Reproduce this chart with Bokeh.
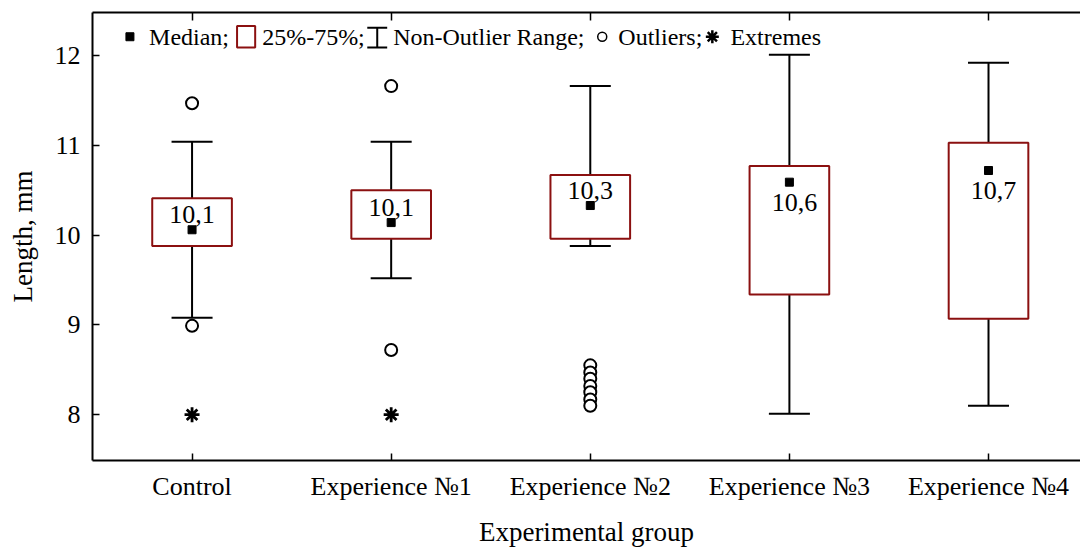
from bokeh.plotting import figure
from bokeh.models import Range1d, FixedTicker, LinearAxis, ColumnDataSource, CustomJSTickFormatter
from bokeh.core.properties import value
from bokeh.embed import file_html
from bokeh.resources import INLINE

# ---- data ----
groups = ["Control", "Experience №1", "Experience №2", "Experience №3", "Experience №4"]
medians = [10.06, 10.14, 10.33, 10.59, 10.72]
q1 = [9.88, 9.96, 9.96, 9.34, 9.07]
q3 = [10.41, 10.50, 10.67, 10.77, 11.03]
whisk_lo = [9.08, 9.52, 9.88, 8.01, 8.10]
whisk_hi = [11.04, 11.04, 11.66, 12.01, 11.92]
median_labels = ["10,1", "10,1", "10,3", "10,6", "10,7"]
label_below = [False, False, False, True, True]
outliers = [
    [11.47, 8.99],
    [11.66, 8.72],
    [8.55, 8.47, 8.40, 8.32, 8.25, 8.17, 8.10],
    [],
    [],
]
extremes = [[8.0], [8.0], [], [], []]
y_ticks = [8, 9, 10, 11, 12]

FONT = "Liberation Serif"
BOX_RED = "#8b1010"

xs = list(range(len(groups)))

p = figure(width=1080, height=549, output_backend="svg", toolbar_location=None,
           x_range=Range1d(-0.5, 4.462), y_range=Range1d(7.49, 12.48),
           min_border_left=92, min_border_right=0, min_border_top=12, min_border_bottom=89)
p.outline_line_color = None
p.xgrid.visible = False
p.ygrid.visible = False
p.background_fill_color = "white"
p.border_fill_color = "white"

# axes
p.xaxis.ticker = FixedTicker(ticks=xs)
p.xaxis.major_label_overrides = {i: g for i, g in enumerate(groups)}
p.yaxis.ticker = FixedTicker(ticks=y_ticks)
for ax in (p.xaxis[0], p.yaxis[0]):
    ax.axis_line_width = 2
    ax.major_tick_line_width = 1.5
    ax.major_tick_in = 7
    ax.major_tick_out = 0
    ax.minor_tick_line_color = None
    ax.major_label_text_font = FONT
    ax.major_label_text_font_size = "26px"
    ax.major_label_text_color = "black"
    ax.axis_label_text_font = FONT
    ax.axis_label_text_font_size = "27px"
    ax.axis_label_text_font_style = "normal"
    ax.axis_label_text_color = "black"
p.xaxis.axis_label = "Experimental group"
p.yaxis.axis_label = "Length, mm"
p.xaxis.major_label_standoff = 11
p.xaxis.axis_label_standoff = 13
p.yaxis.major_label_standoff = 12
p.yaxis.axis_label_standoff = 14

top = LinearAxis(ticker=FixedTicker(ticks=xs),
                 formatter=CustomJSTickFormatter(code="return ''"),
                 major_tick_in=8, major_tick_out=0, axis_line_width=2,
                 major_tick_line_width=1.5, major_label_standoff=0,
                 minor_tick_line_color=None)
p.add_layout(top, "above")

# whisker stems
p.segment(x0=xs, y0=whisk_lo, x1=xs, y1=whisk_hi, line_color="black", line_width=2)
cap = 0.103
p.segment(x0=[x - cap for x in xs], y0=whisk_hi, x1=[x + cap for x in xs], y1=whisk_hi,
          line_color="black", line_width=2)
p.segment(x0=[x - cap for x in xs], y0=whisk_lo, x1=[x + cap for x in xs], y1=whisk_lo,
          line_color="black", line_width=2)

# boxes
p.vbar(x=xs, width=0.40, bottom=q1, top=q3, fill_color="white",
       line_color=BOX_RED, line_width=2)

# medians
p.scatter(x=xs, y=medians, marker="square", size=8, fill_color="black", line_color="black")

# outliers / extremes
ox, oy = [], []
for i, vals in enumerate(outliers):
    for v in vals:
        ox.append(i); oy.append(v)
p.scatter(x=ox, y=oy, marker="circle", size=12, fill_color="white",
          line_color="black", line_width=2)
ex, ey = [], []
for i, vals in enumerate(extremes):
    for v in vals:
        ex.append(i); ey.append(v)
p.scatter(x=ex, y=ey, marker="asterisk", size=15, line_color="black", line_width=2.8)

# median labels
lab_src = ColumnDataSource(dict(
    x=xs, y=medians, text=median_labels,
    xo=[5 if b else 0 for b in label_below],
    yo=[20 if b else -15 for b in label_below],
))
p.text(x="x", y="y", text="text", x_offset="xo", y_offset="yo", source=lab_src,
       text_font=value(FONT), text_font_size="26px", text_align="center",
       text_baseline="alphabetic", text_color="black")

# ---- legend row (drawn manually) ----
LY = 12.21
p.scatter(x=[-0.312], y=[LY], marker="square", size=8, fill_color="black", line_color="black")
p.quad(left=[0.226], right=[0.317], bottom=[12.09], top=[12.33], fill_color="white",
       line_color=BOX_RED, line_width=2)
p.segment(x0=[0.930], y0=[12.09], x1=[0.930], y1=[12.31], line_color="black", line_width=2)
p.segment(x0=[0.880, 0.880], y0=[12.09, 12.31], x1=[0.980, 0.980], y1=[12.09, 12.31],
          line_color="black", line_width=2)
p.scatter(x=[2.060], y=[LY], marker="circle", size=9, fill_color="white",
          line_color="black", line_width=1.5)
p.scatter(x=[2.613], y=[LY], marker="asterisk", size=13, line_color="black", line_width=2.5)
leg_src = ColumnDataSource(dict(
    x=[-0.216, 0.352, 1.010, 2.141, 2.704],
    y=[LY] * 5,
    text=["Median;", "25%-75%;", "Non-Outlier Range;", "Outliers;", "Extremes"],
))
p.text(x="x", y="y", text="text", source=leg_src, text_font=value(FONT),
       text_font_size="24px", text_align="left", text_baseline="middle", text_color="black")

open("out.html", "w").write(file_html(p, INLINE))
